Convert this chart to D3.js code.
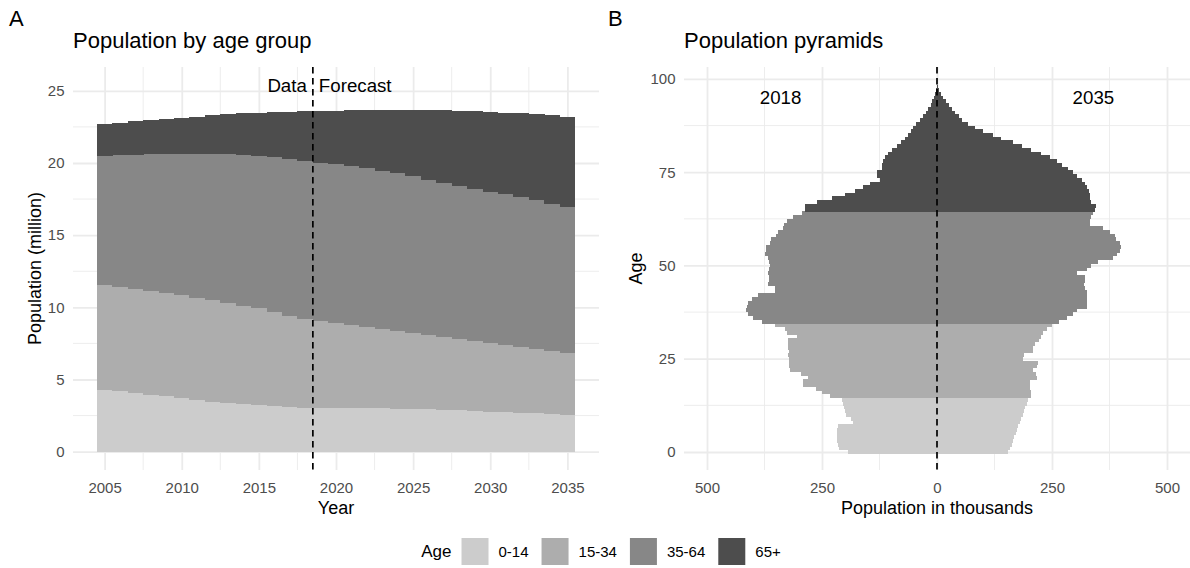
<!DOCTYPE html>
<html>
<head>
<meta charset="utf-8">
<script src="https://cdn.jsdelivr.net/npm/d3@7"></script>
<style>
  body { margin: 0; background: #fff; }
  svg { display: block; font-family: "Liberation Sans", Arial, sans-serif; }
</style>
</head>
<body>
<div id="chart"></div>
<script>
// Panel A: population by age group (million), one bar per year
const years = [2005, 2006, 2007, 2008, 2009, 2010, 2011, 2012, 2013, 2014, 2015, 2016, 2017, 2018, 2019, 2020,
               2021, 2022, 2023, 2024, 2025, 2026, 2027, 2028, 2029, 2030, 2031, 2032, 2033, 2034, 2035];
const popAge0_14  = [4.30, 4.20, 4.10, 3.95, 3.85, 3.72, 3.60, 3.50, 3.42, 3.33, 3.25, 3.18, 3.12, 3.07, 3.06, 3.06,
                     3.05, 3.04, 3.02, 3.00, 2.98, 2.95, 2.92, 2.88, 2.84, 2.80, 2.76, 2.72, 2.68, 2.64, 2.60];
const popAge15_34 = [7.30, 7.25, 7.20, 7.20, 7.15, 7.13, 7.10, 7.02, 6.92, 6.82, 6.70, 6.54, 6.33, 6.13, 5.99, 5.86,
                     5.75, 5.63, 5.51, 5.40, 5.28, 5.17, 5.06, 4.96, 4.86, 4.76, 4.66, 4.56, 4.46, 4.36, 4.28];
const popAge35_64 = [8.90, 9.10, 9.30, 9.48, 9.65, 9.82, 9.98, 10.16, 10.31, 10.45, 10.57, 10.70, 10.85, 10.95, 11.00, 11.03,
                     11.00, 10.98, 10.97, 10.90, 10.84, 10.73, 10.67, 10.61, 10.55, 10.49, 10.43, 10.37, 10.31, 10.20, 10.12];
const popAge65    = [2.20, 2.25, 2.30, 2.37, 2.43, 2.48, 2.54, 2.62, 2.72, 2.83, 2.96, 3.10, 3.25, 3.42, 3.55, 3.67,
                     3.84, 4.01, 4.17, 4.38, 4.58, 4.82, 5.00, 5.17, 5.33, 5.49, 5.64, 5.78, 5.92, 6.10, 6.20];
const yearTicks = [2005, 2010, 2015, 2020, 2025, 2030, 2035];
const popTicks = [0, 5, 10, 15, 20, 25];

// Panel B: population pyramids (thousands) by single year of age
const ages = [ 0,  1,  2,  3,  4,  5,  6,  7,  8,  9, 10, 11, 12, 13, 14, 15, 16, 17, 18, 19,
              20, 21, 22, 23, 24, 25, 26, 27, 28, 29, 30, 31, 32, 33, 34, 35, 36, 37, 38, 39,
              40, 41, 42, 43, 44, 45, 46, 47, 48, 49, 50, 51, 52, 53, 54, 55, 56, 57, 58, 59,
              60, 61, 62, 63, 64, 65, 66, 67, 68, 69, 70, 71, 72, 73, 74, 75, 76, 77, 78, 79,
              80, 81, 82, 83, 84, 85, 86, 87, 88, 89, 90, 91, 92, 93, 94, 95, 96, 97, 98, 99];
const pop2018 = [193, 212, 215, 217, 217, 217, 217, 215, 183, 186,
                 198, 201, 203, 205, 206, 232, 250, 262, 291, 291,
                 280, 296, 320, 322, 322, 322, 323, 322, 324, 324,
                 324, 304, 326, 330, 352, 380, 400, 411, 415, 413,
                 411, 402, 390, 352, 352, 367, 365, 365, 368, 365,
                 362, 365, 367, 375, 372, 372, 363, 360, 350, 345,
                 335, 332, 326, 313, 294, 287, 287, 261, 229, 200,
                 178, 160, 146, 124, 131, 131, 120, 120, 118, 114,
                 106, 97, 88, 78, 70, 63, 57, 52, 45, 38,
                 31, 25, 19, 14, 10, 6, 4, 2, 1, 0.5];
const pop2035 = [155, 159, 162, 165, 168, 171, 174, 177, 180, 183,
                 186, 189, 192, 195, 198, 205, 205, 203, 202, 202,
                 217, 215, 209, 218, 220, 187, 190, 208, 209, 212,
                 222, 225, 230, 240, 250, 265, 283, 295, 305, 325,
                 325, 325, 325, 325, 322, 320, 322, 322, 304, 325,
                 335, 350, 383, 392, 398, 400, 398, 390, 387, 376,
                 360, 333, 333, 335, 340, 343, 345, 335, 333, 333,
                 330, 327, 322, 315, 305, 296, 285, 272, 260, 245,
                 225, 205, 185, 165, 140, 122, 100, 82, 68, 55,
                 47, 40, 33, 26, 19, 13, 8, 4, 2, 1];
const ageTicks = [0, 25, 50, 75, 100];
const thousandTicks = [-500, -250, 0, 250, 500];

const ageGroups = ['0-14', '15-34', '35-64', '65+'];
const groupUpper = [14, 34, 64, 200];

// Estilos
const FILLS = ['#CCCCCC', '#ADADAD', '#878787', '#4D4D4D'];
const GRID = '#EBEBEB', TICK_TXT = '#4D4D4D';
const W = 1190, H = 568;
const panelTop = 67, panelBottom = 470;

const svg = d3.select('#chart').append('svg')
    .attr('width', W)
    .attr('height', H);
svg.append('rect').attr('width', W).attr('height', H).attr('fill', '#fff');

function gridAndLabels(g, x, y, xMajor, yMajor, xFmt) {
    const xMinor = d3.pairs(xMajor).map(p => (p[0] + p[1]) / 2);
    const yMinor = d3.pairs(yMajor).map(p => (p[0] + p[1]) / 2);
    const [x0, x1] = x.range(), [y0, y1] = y.range();
    //Minor grid
    g.append('g').selectAll('line').data(xMinor).join('line')
        .attr('x1', d => x(d)).attr('x2', d => x(d)).attr('y1', y1).attr('y2', y0)
        .attr('stroke', GRID).attr('stroke-width', 0.9);
    g.append('g').selectAll('line').data(yMinor).join('line')
        .attr('y1', d => y(d)).attr('y2', d => y(d)).attr('x1', x0).attr('x2', x1)
        .attr('stroke', GRID).attr('stroke-width', 0.9);
    //Major grid via axes
    g.append('g').attr('transform', 'translate(0,' + y0 + ')')
        .call(d3.axisBottom(x).tickValues(xMajor).tickSize(-(y0 - y1)).tickFormat(''))
        .call(s => s.select('.domain').remove())
        .call(s => s.selectAll('line').attr('stroke', GRID).attr('stroke-width', 1.8));
    g.append('g').attr('transform', 'translate(' + x0 + ',0)')
        .call(d3.axisLeft(y).tickValues(yMajor).tickSize(-(x1 - x0)).tickFormat(''))
        .call(s => s.select('.domain').remove())
        .call(s => s.selectAll('line').attr('stroke', GRID).attr('stroke-width', 1.8));
    //Labels
    g.append('g').attr('transform', 'translate(0,' + y0 + ')')
        .call(d3.axisBottom(x).tickValues(xMajor).tickSize(0).tickPadding(12).tickFormat(xFmt))
        .call(s => s.select('.domain').remove())
        .attr('font-size', 15).attr('font-family', null).style('color', TICK_TXT);
    g.append('g').attr('transform', 'translate(' + x0 + ',0)')
        .call(d3.axisLeft(y).tickValues(yMajor).tickSize(0).tickPadding(8.5))
        .call(s => s.select('.domain').remove())
        .attr('font-size', 15).attr('font-family', null).style('color', TICK_TXT);
}

function addText(txt, x, y, size, anchor, rotate) {
    const t = svg.append('text').text(txt)
        .attr('font-size', size)
        .attr('fill', '#000')
        .attr('text-anchor', anchor || 'start');
    if (rotate) t.attr('transform', 'translate(' + x + ',' + y + ') rotate(-90)');
    else t.attr('x', x).attr('y', y);
    return t;
}

///// PANEL A
const xA = d3.scaleLinear().domain([2002.95, 2037.05]).range([73, 599]);
const yA = d3.scaleLinear().domain([-1.27, 26.65]).range([panelBottom, panelTop]);
const gA = svg.append('g');
gridAndLabels(gA, xA, yA, yearTicks, popTicks, d3.format('d'));

const rowsA = years.map((yr, i) => ({
    year: yr,
    '0-14': popAge0_14[i], '15-34': popAge15_34[i], '35-64': popAge35_64[i], '65+': popAge65[i]
}));
const stacked = d3.stack().keys(ageGroups)(rowsA);

gA.append('g').selectAll('g').data(stacked).join('g')
    .attr('fill', (d, i) => FILLS[i])
    .selectAll('rect').data(d => d).join('rect')
    .attr('x', d => xA(d.data.year - 0.5))
    .attr('width', d => xA(d.data.year + 0.5) - xA(d.data.year - 0.5) + 0.4)
    .attr('y', d => yA(d[1]))
    .attr('height', d => yA(d[0]) - yA(d[1]) + 0.4)
    .attr('shape-rendering', 'crispEdges');

gA.append('line')
    .attr('x1', xA(2018.5)).attr('x2', xA(2018.5))
    .attr('y1', panelTop).attr('y2', panelBottom)
    .attr('stroke', '#000').attr('stroke-width', 1.7).attr('stroke-dasharray', '6.5,4.5');

addText('Data', xA(2018.5) - 6, yA(25.4) + 6.7, 18.7, 'end');
addText('Forecast', xA(2018.5) + 6, yA(25.4) + 6.7, 18.7, 'start');

addText('A', 9, 26, 22);
addText('Population by age group', 73, 48, 22);
addText('Year', (73 + 599) / 2, 514, 18, 'middle');
addText('Population (million)', 41, (panelTop + panelBottom) / 2, 18, 'middle', true);

///// PANEL B
const xB = d3.scaleLinear().domain([-550, 550]).range([684, 1190]);
const yB = d3.scaleLinear().domain([-4.83, 103.2]).range([panelBottom, panelTop]);
const gB = svg.append('g');
gridAndLabels(gB, xB, yB, thousandTicks, ageTicks, d => Math.abs(d));

const groupOf = a => groupUpper.findIndex(u => a <= u);
const rowsB = ages.map((a, i) => ({ age: a, left: pop2018[i], right: pop2035[i], grp: groupOf(a) }));

const bars = gB.append('g');
bars.selectAll('rect.l').data(rowsB).join('rect').attr('class', 'l')
    .attr('x', d => xB(-d.left))
    .attr('width', d => xB(0) - xB(-d.left))
    .attr('y', d => yB(d.age + 0.5))
    .attr('height', d => yB(d.age - 0.5) - yB(d.age + 0.5) + 0.3)
    .attr('fill', d => FILLS[d.grp])
    .attr('shape-rendering', 'crispEdges');
bars.selectAll('rect.r').data(rowsB).join('rect').attr('class', 'r')
    .attr('x', xB(0))
    .attr('width', d => xB(d.right) - xB(0))
    .attr('y', d => yB(d.age + 0.5))
    .attr('height', d => yB(d.age - 0.5) - yB(d.age + 0.5) + 0.3)
    .attr('fill', d => FILLS[d.grp])
    .attr('shape-rendering', 'crispEdges');

gB.append('line')
    .attr('x1', xB(0)).attr('x2', xB(0))
    .attr('y1', panelTop).attr('y2', panelBottom)
    .attr('stroke', '#000').attr('stroke-width', 1.7).attr('stroke-dasharray', '6.5,4.5');

addText('2018', xB(-340), yB(95) + 6.7, 18.7, 'middle');
addText('2035', xB(340), yB(95) + 6.7, 18.7, 'middle');

addText('B', 608, 26, 22);
addText('Population pyramids', 684, 48, 22);
addText('Population in thousands', (684 + 1190) / 2, 514, 18, 'middle');
addText('Age', 642, (panelTop + panelBottom) / 2, 18, 'middle', true);

///// LEYENDA
const legend = svg.append('g');
const legTitle = legend.append('text').text('Age').attr('font-size', 17).attr('y', 557);
let cx = legTitle.node().getComputedTextLength() + 10;
ageGroups.forEach((grp, i) => {
    legend.append('rect').attr('x', cx).attr('y', 538).attr('width', 27).attr('height', 27).attr('fill', FILLS[i]);
    cx += 27 + 10;
    const t = legend.append('text').text(grp).attr('font-size', 15).attr('x', cx).attr('y', 556.5).attr('fill', '#000');
    cx += t.node().getComputedTextLength() + (i < ageGroups.length - 1 ? 13 : 0);
});
legend.attr('transform', 'translate(' + (601 - cx / 2) + ',0)');
</script>
</body>
</html>
